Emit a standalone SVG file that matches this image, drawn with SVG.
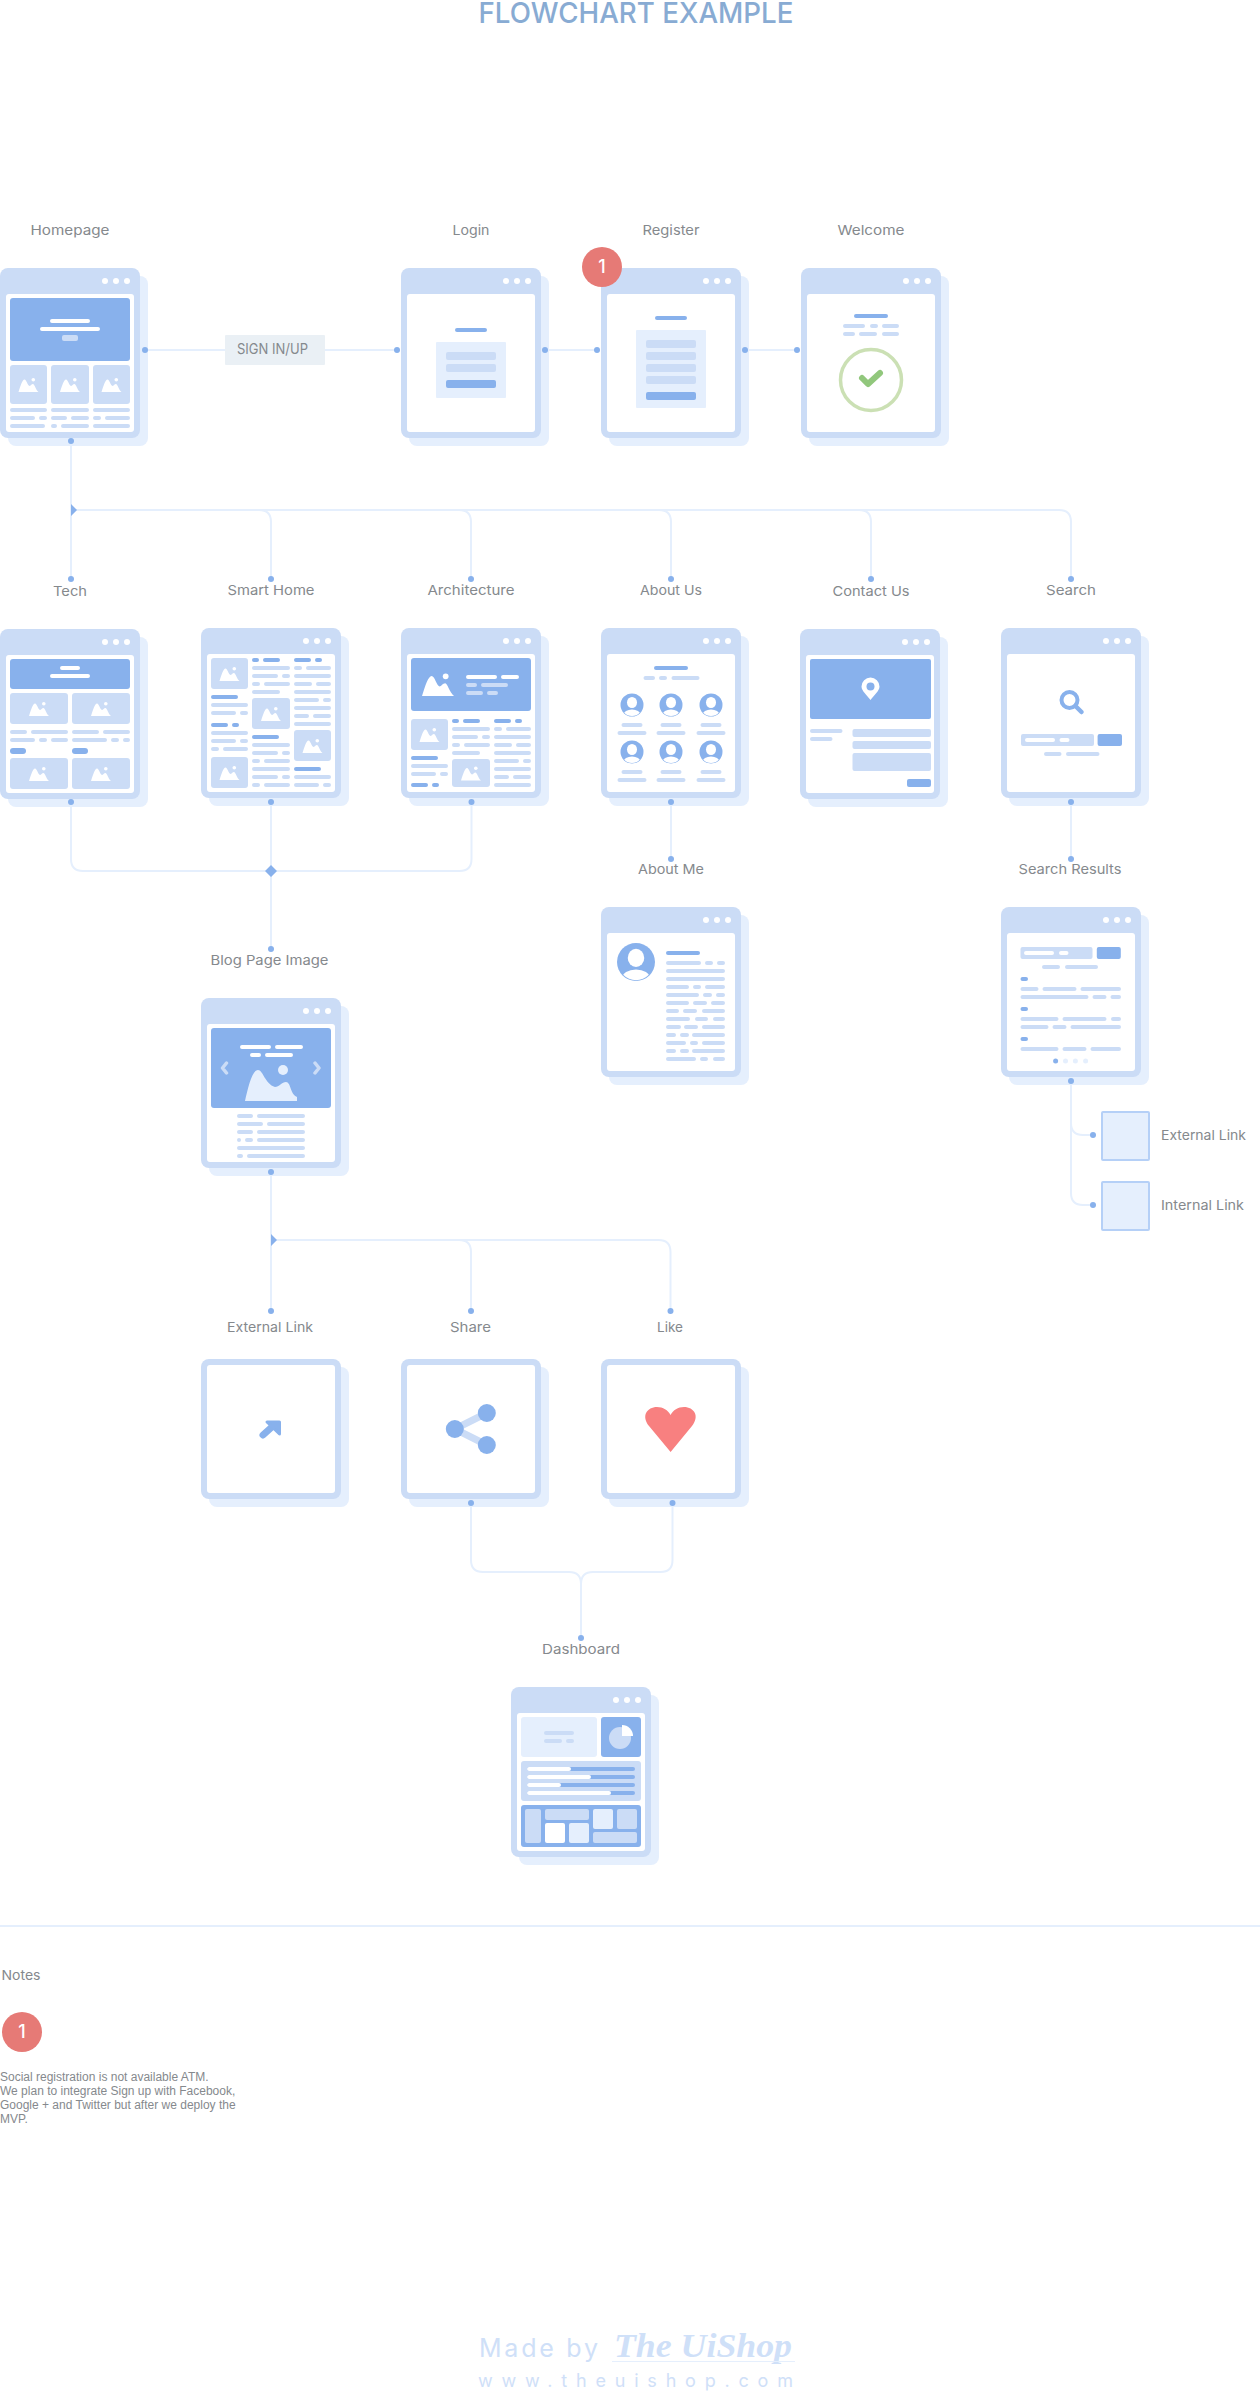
<svg xmlns="http://www.w3.org/2000/svg" width="1260" height="2392" viewBox="0 0 1260 2392">
<style>
text{font-family:"Inter","Liberation Sans",sans-serif;fill:#85898d}
.lb{font-size:13.500px;text-anchor:middle}
.l,.b,.w,.p,.c{fill:none;stroke-linecap:round;stroke-linejoin:round;stroke-width:4}
.l{stroke:#cbdcf6}.b{stroke:#88b1ec}.w{stroke:#fff}
.fl{fill:#cbdcf6}.fb{fill:#88b1ec}.fp{fill:#e5effd}.fw{fill:#fff}
.c{stroke:#e5effd;stroke-width:2}
.d{fill:#88b1ec}
.bn{fill:#e67a76}
.bt{fill:#fff;font-size:18px;font-weight:500;text-anchor:middle}
.sb{fill:#e5effd;stroke:#b5d0f7;stroke-width:2}
</style>
<defs>
<g id="win"><rect class="fp" x="8" y="8" width="140" height="170" rx="8"/><rect class="fl" width="140" height="170" rx="8"/><rect class="fw" x="6" y="26" width="128" height="138" rx="3"/><circle class="fw" cx="105" cy="13" r="3"/><circle class="fw" cx="116" cy="13" r="3"/><circle class="fw" cx="127" cy="13" r="3"/></g>
<g id="sq"><rect class="fp" x="8" y="8" width="140" height="140" rx="8"/><rect class="fl" width="140" height="140" rx="8"/><rect class="fw" x="6" y="6" width="128" height="128" rx="3"/></g>
<g id="m"><path class="fw" d="M-10 7.500C-8 1-6-5-4-5C-2-5-1 1 1 1.500C2 1.500 3-.5 4.500-.5C6-.5 7 5 10 7.500Z"/><circle class="fw" cx="4.800" cy="-4.800" r="1.800"/></g>
<clipPath id="ac"><circle r="11"/></clipPath>
<g id="av"><circle class="fb" r="11.500"/><g clip-path="url(#ac)"><ellipse class="fw" cy="-2.500" rx="5" ry="5.500"/><ellipse class="fw" cy="10" rx="8.500" ry="5.500"/></g></g>
</defs>

<text x="636" y="22.500" font-size="28.500" text-anchor="middle" textLength="315" lengthAdjust="spacingAndGlyphs" style="fill:#88abd3;font-weight:500">FLOWCHART EXAMPLE</text>

<g id="connectors">
<path class="c" d="M145 350H397M545 350H597M745 350H797"/>
<path class="c" d="M71 441V579M71 510H259Q271 510 271 522V579M71 510H459Q471 510 471 522V579M71 510H659Q671 510 671 522V579M71 510H859Q871 510 871 522V579M71 510H1059Q1071 510 1071 522V579"/>
<path class="c" d="M71 802V859Q71 871 83 871H459.500Q471.500 871 471.500 859V802M271 802V949"/>
<path class="c" d="M671 802V859M1071 802V859"/>
<path class="c" d="M1071 1081V1123Q1071 1135 1083 1135H1093M1071 1081V1193Q1071 1205 1083 1205H1093"/>
<path class="c" d="M271 1172V1311M271 1240H459Q471 1240 471 1252V1311M271 1240H658.500Q670.500 1240 670.500 1252V1311"/>
<path class="c" d="M471 1503V1560Q471 1572 483 1572H569Q581 1572 581 1584V1638M672.500 1503V1560Q672.500 1572 660.500 1572H593Q581 1572 581 1584"/>
</g>

<g id="signinup"><rect x="225" y="335" width="100" height="30" rx="1" fill="#eaf0f5"/><text x="237" y="354" font-size="14.500" textLength="71" lengthAdjust="spacingAndGlyphs">SIGN IN/UP</text></g>

<g id="homepage"><text class="lb" x="70" y="235" textLength="79" lengthAdjust="spacingAndGlyphs">Homepage</text>
<g transform="translate(0,268)"><use href="#win"/><rect class="fb" x="10" y="30" width="120" height="63" rx="3"/><path class="w" d="M52 53H88M42 61H98"/><rect class="fl" x="62" y="67" width="16" height="6" rx="2"/>
<rect class="fl" x="10" y="97" width="37" height="39" rx="3"/><rect class="fl" x="51" y="97" width="38" height="39" rx="3"/><rect class="fl" x="93" y="97" width="37" height="39" rx="3"/>
<use href="#m" x="28.500" y="116.500"/><use href="#m" x="70" y="116.500"/><use href="#m" x="111.500" y="116.500"/>
<path class="l" d="M12 142H45M53 142H87M95 142H128M12 150H33M41 150H45M53 150H65M73 150H87M95 150H99M107 150H128M12 158H43M53 158H55M63 158H87M95 158H128"/></g></g>

<g id="login"><text class="lb" x="471" y="235" textLength="37" lengthAdjust="spacingAndGlyphs">Login</text>
<g transform="translate(401,268)"><use href="#win"/><path class="b" d="M56 62H84"/><rect class="fp" x="35" y="74" width="70" height="56" rx="1"/><rect class="fl" x="45" y="84" width="50" height="8" rx="2"/><rect class="fl" x="45" y="96" width="50" height="8" rx="2"/><rect class="fb" x="45" y="112" width="50" height="8" rx="2"/></g></g>

<g id="register"><text class="lb" x="671" y="235" textLength="57" lengthAdjust="spacingAndGlyphs">Register</text>
<g transform="translate(601,268)"><use href="#win"/><path class="b" d="M56 50H84"/><rect class="fp" x="35" y="62" width="70" height="78" rx="1"/><rect class="fl" x="45" y="72" width="50" height="8" rx="2"/><rect class="fl" x="45" y="84" width="50" height="8" rx="2"/><rect class="fl" x="45" y="96" width="50" height="8" rx="2"/><rect class="fl" x="45" y="108" width="50" height="8" rx="2"/><rect class="fb" x="45" y="124" width="50" height="8" rx="2"/></g>
<circle class="bn" cx="602" cy="267" r="20"/><text class="bt" x="602" y="273">1</text></g>

<g id="welcome"><text class="lb" x="871" y="235" textLength="67" lengthAdjust="spacingAndGlyphs">Welcome</text>
<g transform="translate(801,268)"><use href="#win"/><path class="b" d="M55 48H85"/><path class="l" d="M44 58H62M71 58H75M83 58H96M44 66H52M60 66H74M83 66H96"/><circle cx="70" cy="112" r="30.500" fill="none" stroke="#cbe0b4" stroke-width="3.500"/><path d="M61 110L67 116L79 105" fill="none" stroke="#91c77c" stroke-width="6" stroke-linecap="round" stroke-linejoin="round"/></g></g>

<g id="tech"><text class="lb" x="70" y="596" textLength="34" lengthAdjust="spacingAndGlyphs">Tech</text>
<g transform="translate(0,629)"><use href="#win"/><rect class="fb" x="10" y="30" width="120" height="30" rx="3"/><path class="w" d="M62 39H78M52 47H88"/>
<rect class="fl" x="10" y="64" width="58" height="31" rx="3"/><rect class="fl" x="72" y="64" width="58" height="31" rx="3"/><rect class="fl" x="10" y="129" width="58" height="31" rx="3"/><rect class="fl" x="72" y="129" width="58" height="31" rx="3"/>
<use href="#m" x="39" y="79.500"/><use href="#m" x="101" y="79.500"/><use href="#m" x="39" y="144.500"/><use href="#m" x="101" y="144.500"/>
<path class="l" d="M12 103H25M33 103H66M74 103H97M105 103H128M12 111H33M41 111H45M53 111H66M74 111H105M113 111H117M125 111H128"/>
<rect class="fb" x="10" y="119" width="16" height="6" rx="3"/><rect class="fb" x="72" y="119" width="16" height="6" rx="3"/></g></g>

<g id="smart-home"><text class="lb" x="271" y="595" textLength="87" lengthAdjust="spacingAndGlyphs">Smart Home</text>
<g transform="translate(201,628)"><use href="#win"/>
<rect class="fl" x="10" y="30" width="37" height="31" rx="3"/><rect class="fl" x="10" y="129" width="37" height="31" rx="3"/><rect class="fl" x="51" y="70" width="38" height="31" rx="3"/><rect class="fl" x="93" y="102" width="37" height="31" rx="3"/>
<use href="#m" x="28.500" y="45.500"/><use href="#m" x="28.500" y="144.500"/><use href="#m" x="70" y="85.500"/><use href="#m" x="111.500" y="117.500"/>
<path class="b" d="M12 69H35M12 97H25M33 97H36M53 32H56M64 32H77M53 109H76M95 32H108M116 32H119M95 141H118"/>
<path class="l" d="M12 77H45M12 85H33M41 85H45M12 105H45M12 113H33M41 113H45M12 121H16M24 121H45M53 40H87M53 48H75M83 48H87M53 56H57M65 56H87M53 64H77M53 117H87M53 125H75M83 125H87M53 133H57M65 133H87M53 141H87M53 149H75M83 149H87M53 157H57M65 157H87M95 40H99M107 40H128M95 48H128M95 56H109M117 56H128M95 64H128M95 72H116M124 72H128M95 80H128M95 88H106M114 88H128M95 96H128M95 149H128M95 157H116M124 157H128"/></g></g>

<g id="architecture"><text class="lb" x="471" y="595" textLength="87" lengthAdjust="spacingAndGlyphs">Architecture</text>
<g transform="translate(401,628)"><use href="#win"/><rect class="fb" x="10" y="30" width="120" height="53" rx="3"/><use href="#m" transform="translate(37,56) scale(1.600)"/><path class="w" d="M67 49H94M102 49H116"/><path class="l" d="M67 57H74M82 57H105M67 65H80M88 65H95"/>
<rect class="fl" x="10" y="91" width="37" height="31" rx="3"/><rect class="fl" x="51" y="131" width="38" height="28" rx="3"/><use href="#m" x="28.500" y="106.500"/><use href="#m" x="70" y="145"/>
<path class="b" d="M12 130H35M12 157H25M33 157H36M53 93H56M64 93H77M95 93H108M116 93H119"/>
<path class="l" d="M12 138H45M12 146H33M41 146H45M53 101H87M53 109H75M83 109H87M53 117H57M65 117H87M53 125H77M95 101H99M107 101H128M95 109H128M95 117H109M117 117H128M95 125H128M95 133H116M124 133H128M95 141H128M95 149H106M114 149H128M95 157H128"/></g></g>

<g id="about-us"><text class="lb" x="671" y="595" textLength="62" lengthAdjust="spacingAndGlyphs">About Us</text>
<g transform="translate(601,628)"><use href="#win"/><path class="b" d="M55 40H85"/><path class="l" d="M44.500 50H52M60 50H64M72.500 50H96.500"/>
<use href="#av" x="31" y="77"/><use href="#av" x="70" y="77"/><use href="#av" x="110" y="77"/><use href="#av" x="31" y="124"/><use href="#av" x="70" y="124"/><use href="#av" x="110" y="124"/>
<path class="l" d="M22.500 97H39.500M61.500 97H78.500M101.500 97H118.500M18.500 105H43.500M57.500 105H82.500M97.500 105H122.500M22.500 144H39.500M61.500 144H78.500M101.500 144H118.500M18.500 152H43.500M57.500 152H82.500M97.500 152H122.500"/></g></g>

<g id="contact-us"><text class="lb" x="871" y="596" textLength="77" lengthAdjust="spacingAndGlyphs">Contact Us</text>
<g transform="translate(800,629)"><use href="#win"/><rect class="fb" x="10" y="30" width="121" height="60" rx="2"/><path class="fw" d="M70.500 71C67 66 61.500 62 61.500 57.500A9 9 0 0 1 79.500 57.500C79.500 62 74 66 70.500 71Z"/><circle class="fb" cx="70.500" cy="57.500" r="4"/>
<path class="l" d="M12 102H40.500M12 110H30.500"/><rect class="fl" x="52.500" y="100" width="78.500" height="8" rx="2"/><rect class="fl" x="52.500" y="112" width="78.500" height="8" rx="2"/><rect class="fl" x="52.500" y="124" width="78.500" height="18" rx="2"/><rect class="fb" x="107" y="150" width="24" height="8" rx="2"/></g></g>

<g id="search"><text class="lb" x="1071" y="595" textLength="50" lengthAdjust="spacingAndGlyphs">Search</text>
<g transform="translate(1001,628)"><use href="#win"/><circle cx="68.500" cy="72" r="8" fill="none" stroke="#88b1ec" stroke-width="4"/><path class="b" d="M74.500 78L80.500 84" style="stroke-width:4.500"/>
<rect class="fl" x="20" y="106" width="73" height="12" rx="2"/><path class="w" d="M26 112H52M60.500 112H66.500"/><rect class="fb" x="96.600" y="106" width="24.400" height="12" rx="2"/><path class="l" d="M45 126H58.500M67 126H96.500"/></g></g>

<g id="about-me"><text class="lb" x="671" y="874" textLength="66" lengthAdjust="spacingAndGlyphs">About Me</text>
<g transform="translate(601,907)"><use href="#win"/><use href="#av" transform="translate(35,55) scale(1.650)"/><path class="b" d="M67 46H97"/>
<path class="l" d="M67 56H98M106 56H110M118 56H122M67 64H122M67 72H122M67 80H86M94 80H98M106 80H122M67 88H96M104 88H109M117 88H122M67 96H86M94 96H104M112 96H122M67 104H76M84 104H94M103 104H122M67 112H87M96 112H105M114 112H122M67 120H78M85 120H95M103 120H122M67 128H73M81 128H86M93 128H122M67 136H83M91 136H95M103 136H122M67 144H73M81 144H86M93 144H122M67 152H93M101 152H105M114 152H122"/></g></g>

<g id="search-results"><text class="lb" x="1070" y="874" textLength="103" lengthAdjust="spacingAndGlyphs">Search Results</text>
<g transform="translate(1001,907)"><use href="#win"/><rect class="fl" x="19.500" y="40" width="72" height="12" rx="2"/><path class="w" d="M25 46H51M60 46H65.500"/><rect class="fb" x="95.800" y="40" width="24" height="12" rx="2"/>
<path class="b" d="M21.500 72H25M21.500 102H25M21.500 132H25"/>
<path class="l" d="M43 60H57M66 60H95M21.500 82H35.500M43.500 82H73.500M81.500 82H118M21.500 90H85.500M93.500 90H103.500M111.500 90H118M21.500 112H55.500M63.500 112H103.500M112 112H118M21.500 120H45.500M53.500 120H63.500M71.500 120H118M21.500 142H55.500M63.500 142H83.500M91.500 142H118"/>
<circle class="fb" cx="54.600" cy="154" r="2.500"/><circle class="fp" cx="64.500" cy="154" r="2.500"/><circle class="fp" cx="74.400" cy="154" r="2.500"/><circle class="fp" cx="84.600" cy="154" r="2.500"/></g></g>

<g id="external-link-box"><rect class="sb" x="1102" y="1112" width="47" height="48" rx="1"/><text x="1161" y="1140" font-size="13.500" textLength="85" lengthAdjust="spacingAndGlyphs">External Link</text></g>
<g id="internal-link-box"><rect class="sb" x="1102" y="1182" width="47" height="48" rx="1"/><text x="1161" y="1210" font-size="13.500" textLength="83" lengthAdjust="spacingAndGlyphs">Internal Link</text></g>

<g id="blog-page-image"><text class="lb" x="269.500" y="965" textLength="118" lengthAdjust="spacingAndGlyphs">Blog Page Image</text>
<g transform="translate(201,998)"><use href="#win"/><rect class="fb" x="10" y="30" width="120" height="80" rx="3"/><path class="w" d="M41 49H68M76 49H100M51 57H58M66 57H90"/>
<path d="M25.500 65L21.500 70L25.500 75M114 65L118 70L114 75" fill="none" stroke="#cbdcf6" stroke-width="3.500" stroke-linecap="round" stroke-linejoin="round"/>
<circle class="fp" cx="82" cy="72" r="5"/><path class="fp" d="M44 103C47 90 51 72 57 72C62 72 64 86 74 89C78 89 81 84 85 84C90 84 89 96 96 99V103Z"/>
<path class="l" d="M38 118H50M58 118H102M38 126H60M68 126H102M38 134H50M58 134H102M38 142H38M46 142H50M58 142H102M38 150H102M38 158H40M48 158H102"/></g></g>

<g id="external-link"><text class="lb" x="270" y="1332" textLength="86" lengthAdjust="spacingAndGlyphs">External Link</text>
<g transform="translate(201,1359)"><use href="#sq"/><path class="b" d="M62 76L72 67" style="stroke-width:7"/><path class="fb" stroke="#88b1ec" stroke-width="3" stroke-linejoin="round" d="M66 63H78.500V75Z"/></g></g>

<g id="share"><text class="lb" x="470.500" y="1332" textLength="41" lengthAdjust="spacingAndGlyphs">Share</text>
<g transform="translate(401,1359)"><use href="#sq"/><path d="M85.800 54L53.800 70L85.800 86" fill="none" stroke="#cbdcf6" stroke-width="7"/><circle class="fb" cx="53.800" cy="70" r="9"/><circle class="fb" cx="85.800" cy="54" r="9"/><circle class="fb" cx="85.800" cy="86" r="9"/></g></g>

<g id="like"><text class="lb" x="670" y="1332" textLength="26" lengthAdjust="spacingAndGlyphs">Like</text>
<g transform="translate(601,1359)"><use href="#sq"/><path fill="#f88080" d="M69.600 93L48 67C40 57 46 48 56 48C62 48 67 51 69.600 56C72 51 77 48 83 48C93 48 99 57 91 67Z"/></g></g>

<g id="dashboard"><text class="lb" x="581" y="1654" textLength="78" lengthAdjust="spacingAndGlyphs">Dashboard</text>
<g transform="translate(511,1687)"><use href="#win"/><rect class="fp" x="10" y="30" width="76" height="40" rx="3"/><path class="l" d="M35 46H61M35 54H49M57 54H61"/>
<rect class="fb" x="90" y="30" width="40" height="40" rx="3"/><circle class="fl" cx="109" cy="51" r="11"/><path class="fw" d="M111 38A11 11 0 0 1 122 49H111Z"/>
<rect class="fl" x="10" y="74" width="120" height="40" rx="3"/><path class="b" d="M18 82H122M18 90H122M18 98H122M18 106H122"/><path class="w" d="M18 82H58M18 90H78M18 98H48M18 106H98"/>
<rect class="fb" x="10" y="118" width="120" height="42" rx="3"/><rect class="fl" x="14" y="122" width="16" height="34" rx="2"/><rect class="fl" x="34" y="122" width="44" height="11" rx="2"/><rect class="fw" x="34" y="136" width="20" height="20" rx="2"/><rect class="fp" x="58" y="136" width="20" height="20" rx="2"/><rect class="fp" x="82" y="122" width="20" height="20" rx="2"/><rect class="fl" x="106" y="122" width="20" height="20" rx="2"/><rect class="fl" x="82" y="145" width="44" height="11" rx="2"/></g></g>

<g id="connector-ends">
<path class="fb" d="M71 504L77 510L71 516ZM271 1234L277 1240L271 1246ZM271 865L277 871L271 877L265 871Z"/>
<g class="d">
<circle cx="145" cy="350" r="3"/><circle cx="397" cy="350" r="3"/><circle cx="545" cy="350" r="3"/><circle cx="597" cy="350" r="3"/><circle cx="745" cy="350" r="3"/><circle cx="797" cy="350" r="3"/>
<circle cx="71" cy="441" r="3"/>
<circle cx="71" cy="579" r="3"/><circle cx="271" cy="579" r="3"/><circle cx="471" cy="579" r="3"/><circle cx="671" cy="579" r="3"/><circle cx="871" cy="579" r="3"/><circle cx="1071" cy="579" r="3"/>
<circle cx="71" cy="802" r="3"/><circle cx="271" cy="802" r="3"/><circle cx="471.500" cy="802" r="3"/><circle cx="671" cy="802" r="3"/><circle cx="1071" cy="802" r="3"/>
<circle cx="271" cy="949" r="3"/><circle cx="671" cy="859" r="3"/><circle cx="1071" cy="859" r="3"/>
<circle cx="1071" cy="1081" r="3"/><circle cx="1093" cy="1135" r="3"/><circle cx="1093" cy="1205" r="3"/>
<circle cx="271" cy="1172" r="3"/><circle cx="271" cy="1311" r="3"/><circle cx="471" cy="1311" r="3"/><circle cx="670.500" cy="1311" r="3"/>
<circle cx="471" cy="1503" r="3"/><circle cx="672.500" cy="1503" r="3"/><circle cx="581" cy="1638" r="3"/>
</g>
</g>

<g id="notes"><path class="c" d="M0 1926H1260"/><text x="1.500" y="1980" font-size="13.500" textLength="39" lengthAdjust="spacingAndGlyphs">Notes</text>
<circle class="bn" cx="22" cy="2032" r="20"/><text class="bt" x="22" y="2038">1</text>
<g font-size="12" style="font-family:'Liberation Sans',sans-serif"><text x="0" y="2081" style="font-family:inherit">Social registration is not available ATM.</text><text x="0" y="2095" style="font-family:inherit">We plan to integrate Sign up with Facebook,</text><text x="0" y="2109" style="font-family:inherit">Google + and Twitter but after we deploy the</text><text x="0" y="2123" style="font-family:inherit">MVP.</text></g></g>

<g id="footer"><text x="479" y="2357" font-size="25" textLength="119" lengthAdjust="spacing" style="fill:#cfe0f8">Made by</text>
<text x="614" y="2357" font-size="34" textLength="178" lengthAdjust="spacingAndGlyphs" style="fill:#cfe0f8;font-family:'Liberation Serif',serif;font-style:italic;font-weight:700">The UiShop</text>
<path d="M612 2361.500H795" stroke="#e5effd" stroke-width="1" fill="none"/>
<text x="478" y="2387" font-size="18" textLength="315" lengthAdjust="spacing" style="fill:#cfe0f8">www.theuishop.com</text></g>
</svg>
